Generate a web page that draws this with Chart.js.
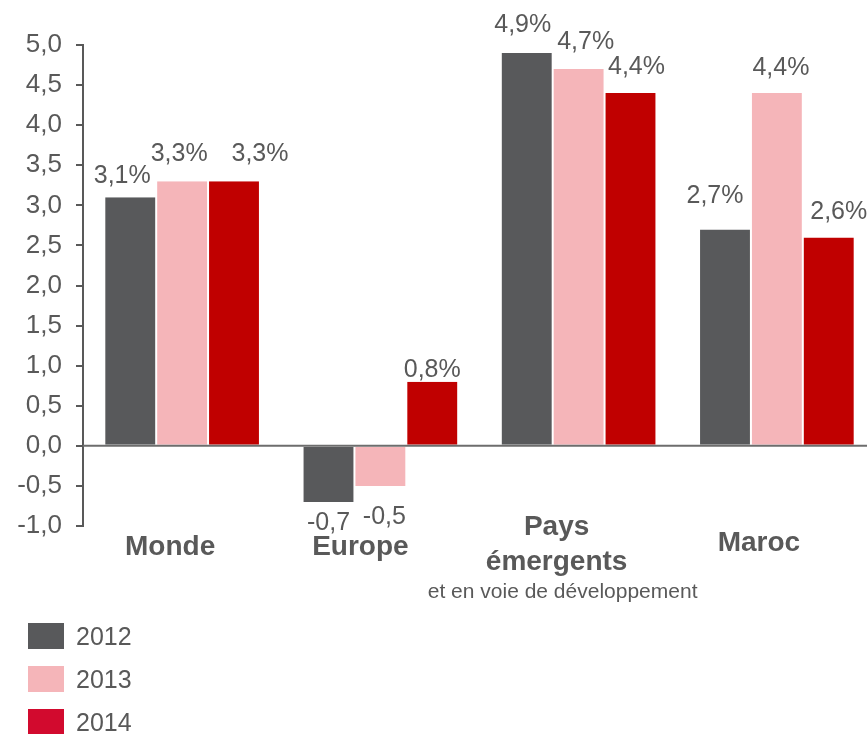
<!DOCTYPE html>
<html>
<head>
<meta charset="utf-8">
<script src="https://cdn.jsdelivr.net/npm/chart.js@4.4.1/dist/chart.umd.min.js"></script>
<style>
  html, body { margin: 0; padding: 0; background: #fff; overflow: hidden; }
  #wrap { position: relative; width: 880px; height: 734px; }
  #legend { position: absolute; left: 28px; top: 623px; font-family: "Liberation Sans", Arial, sans-serif; font-size: 25px; color: #595959; }
  #legend .row { display: flex; align-items: center; height: 26px; margin-bottom: 17px; }
  #legend .sw { width: 36px; height: 26px; margin-right: 12px; }
</style>
</head>
<body>
<div id="wrap">
  <canvas id="c" width="880" height="734"></canvas>
  <div id="legend"></div>
</div>
<script>
// data
const categories = [['Monde'], ['Europe'], ['Pays', 'émergents'], ['Maroc']];
const subtitle = 'et en voie de développement';
const years = ['2012', '2013', '2014'];
const values2012 = [3.1, -0.7, 4.9, 2.7];
const values2013 = [3.3, -0.5, 4.7, 4.4];
const values2014 = [3.3, 0.8, 4.4, 2.6];
const yMin = -1, yMax = 5, yStep = 0.5;

// styles
const barColors = ['#58595b', '#f5b5b9', '#c00000'];
const legendColors = ['#58595b', '#f5b5b9', '#d20a2e'];
const textColor = '#595959';
const font = '"Liberation Sans", Arial, sans-serif';
// label nudges [dx, gap] per series / category (labels were placed by hand in the original)
const labelNudge = [
  [[-8, 14], [0, 9], [-4, 21], [-10, 26]],
  [[-3, 20], [4, 19], [7, 20], [4, 18]],
  [[26, 20], [0, 5], [6, 19], [10, 18]]
];
const catNudge = [
  { dx: -12, y: [555] },
  { dx: -20, y: [555] },
  { dx: -22, y: [535, 570], sub: 598 },
  { dx: -18, y: [551] }
];

const fmt = v => v.toFixed(1).replace('.', ',') + (v > 0 ? '%' : '');

const valueLabels = {
  id: 'valueLabels',
  afterDatasetsDraw(chart) {
    const ctx = chart.ctx;
    ctx.save();
    ctx.font = '25px ' + font;
    ctx.fillStyle = textColor;
    ctx.textAlign = 'center';
    chart.data.datasets.forEach((ds, di) => {
      chart.getDatasetMeta(di).data.forEach((bar, i) => {
        const v = ds.data[i];
        const [dx, gap] = labelNudge[di][i];
        if (v >= 0) {
          ctx.textBaseline = 'alphabetic';
          ctx.fillText(fmt(v), bar.x + dx, bar.y - gap);
        } else {
          ctx.textBaseline = 'top';
          ctx.fillText(fmt(v), bar.x + dx, bar.y + gap);
        }
      });
    });
    ctx.restore();
  }
};

const zeroLine = {
  id: 'zeroLine',
  afterDatasetsDraw(chart) {
    const ctx = chart.ctx;
    const y = chart.scales.y.getPixelForValue(0);
    ctx.save();
    ctx.strokeStyle = '#6d6d6d';
    ctx.lineWidth = 2;
    ctx.beginPath();
    ctx.moveTo(chart.chartArea.left, y);
    ctx.lineTo(chart.width, y);
    ctx.stroke();
    ctx.restore();
  }
};

const catLabels = {
  id: 'catLabels',
  afterDraw(chart) {
    const ctx = chart.ctx;
    const x = chart.scales.x;
    ctx.save();
    ctx.fillStyle = textColor;
    ctx.textAlign = 'center';
    ctx.textBaseline = 'alphabetic';
    categories.forEach((lines, i) => {
      const cx = x.getPixelForValue(i) + catNudge[i].dx;
      ctx.font = 'bold 28px ' + font;
      lines.forEach((t, k) => ctx.fillText(t, cx, catNudge[i].y[k]));
      if (catNudge[i].sub) {
        ctx.font = '21px ' + font;
        ctx.fillText(subtitle, cx + 6, catNudge[i].sub);
      }
    });
    ctx.restore();
  }
};

const series = [values2012, values2013, values2014];

new Chart(document.getElementById('c'), {
  type: 'bar',
  data: {
    labels: categories.map(l => l.join(' ')),
    datasets: series.map((d, i) => ({
      label: years[i],
      data: d,
      backgroundColor: barColors[i],
      borderColor: '#ffffff',
      borderWidth: { left: 1, right: 1 },
      borderSkipped: false,
      barPercentage: 1,
      categoryPercentage: 0.785
    }))
  },
  options: {
    responsive: false,
    animation: false,
    layout: { padding: { top: 45, bottom: 208, right: 4, left: 0 } },
    plugins: { legend: { display: false }, tooltip: { enabled: false } },
    scales: {
      x: { display: false },
      y: {
        min: yMin,
        max: yMax,
        afterFit(s) { s.width = 83; },
        ticks: {
          stepSize: yStep,
          padding: 14,
          color: textColor,
          font: { family: font, size: 26 },
          callback: v => v.toFixed(1).replace('.', ',')
        },
        grid: { drawOnChartArea: false, drawTicks: true, tickLength: 7, color: textColor, lineWidth: 2 },
        border: { display: true, color: textColor, width: 2 }
      }
    }
  },
  plugins: [valueLabels, zeroLine, catLabels]
});

const legend = document.getElementById('legend');
years.forEach((y, i) => {
  const row = document.createElement('div');
  row.className = 'row';
  row.innerHTML = '<div class="sw" style="background:' + legendColors[i] + '"></div><span>' + y + '</span>';
  legend.appendChild(row);
});
</script>
</body>
</html>
